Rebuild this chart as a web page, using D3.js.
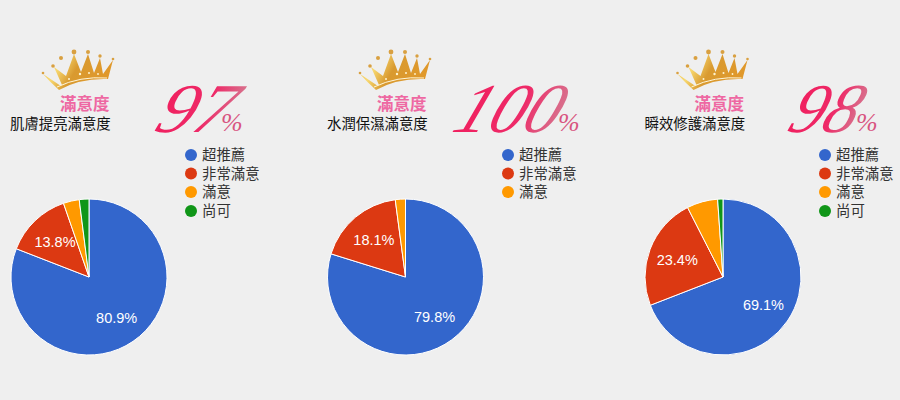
<!DOCTYPE html>
<html><head><meta charset="utf-8">
<script src="https://cdn.jsdelivr.net/npm/d3@7"></script>
<style>html,body{margin:0;padding:0;background:#efefef;overflow:hidden}svg{display:block}
text{font-family:"Noto Sans CJK TC","Noto Sans",sans-serif}</style></head><body>
<svg id="c" width="900" height="400"></svg>
<script>
const categories = ["超推薦","非常滿意","滿意","尚可"];
const colors = ["#3366cc","#dc3912","#ff9900","#109618"];
const titles = ["肌膚提亮滿意度","水潤保濕滿意度","瞬效修護滿意度"];
const scores = ["97","100","98"];
const values1 = [80.9,13.8,3.3,2.0];
const values2 = [79.8,18.1,2.1];
const values3 = [69.1,23.4,6.4,1.1];
const seriesValues = [values1,values2,values3];
const centers = [89,405.5,723];
const legendX = [191,508,825];
const offsets = [0,317,634.5];
const scoreBox = [[140,238],[438,566],[773,864]];
const pctX = [219,556,854];

const svg = d3.select("#c");
svg.append("rect").attr("width",900).attr("height",400).attr("fill","#efefef");
const defs = svg.append("defs");
const g1 = defs.append("linearGradient").attr("id","gold").attr("x1",0).attr("x2",1).attr("y1",0).attr("y2",0.3);
[["0","#f0c040"],["0.3","#f7d870"],["0.55","#d99a30"],["1","#e0982a"]].forEach(s=>g1.append("stop").attr("offset",s[0]).attr("stop-color",s[1]));
const g2 = defs.append("linearGradient").attr("id","rose").attr("x1",0).attr("x2",1).attr("y1",0).attr("y2",0);
[["0","#f0205f"],["0.6","#ee2a68"],["1","#d8708c"]].forEach(s=>g2.append("stop").attr("offset",s[0]).attr("stop-color",s[1]));

const pie = d3.pie().sort(null).value(d=>d);
const R = 78;
const arc = d3.arc().innerRadius(0).outerRadius(R);
const labelArc = d3.arc().innerRadius(49).outerRadius(49);

function crown(g){
  g.append("path").attr("fill","url(#gold)")
   .attr("d","M43,74 L58,84 Q60,86 62,85 L54,67 L66,76 L74,54 L81,72 L88,54 L94,73 L100,58 L103,74 L113,60 L108,79 Q80,78 59,90 Q50,82 43,74Z");
  g.append("path").attr("fill","none").attr("stroke","#fff6d8").attr("stroke-width",1).attr("d","M57,87 Q80,76 107,78");
  [[43,73,1.3],[53,66,1.8],[61,58,2],[74,52,2.4],[88,52,2],[100,56,1.7],[113,59,1.3]].forEach(p=>
    g.append("circle").attr("cx",p[0]).attr("cy",p[1]).attr("r",p[2]).attr("fill","#d9a040"));
  [[69,79,1],[80,74,1.2],[89,73,1],[98,74,.9]].forEach(p=>
    g.append("circle").attr("cx",p[0]).attr("cy",p[1]).attr("r",p[2]).attr("fill","#fff4cf"));
}

seriesValues.forEach((vals,i)=>{
  const g = svg.append("g");
  const head = g.append("g").attr("transform",`translate(${offsets[i]},0)`);
  crown(head);
  head.append("text").attr("x",60).attr("y",109.5).attr("font-size",16.5).attr("font-weight",700).attr("fill","#ee68a2").text("滿意度");
  head.append("text").attr("x",10).attr("y",129).attr("font-size",14.4).attr("fill","#111").text(titles[i]);

  // Big script score
  const [x0,x1] = scoreBox[i];
  const n = scores[i].length, base = 132, fs = 70;
  const sx = (x1-x0-24)/(n*fs*0.5);
  g.append("text").attr("font-size",fs).attr("font-style","italic")
   .style("font-family","'Liberation Serif',serif").attr("fill","url(#rose)")
   .attr("transform",`translate(${x0+12},${base}) skewX(-22) scale(${sx},1)`).text(scores[i]);
  g.append("text").attr("font-size",26).attr("font-style","italic")
   .style("font-family","'Liberation Serif',serif").attr("fill","#d8547f")
   .attr("transform",`translate(${pctX[i]+2},131)`).text("%");

  // Legend
  vals.forEach((v,j)=>{
    const y = [155,173.5,192,211][j];
    g.append("circle").attr("cx",legendX[i]).attr("cy",y).attr("r",6).attr("fill",colors[j]);
    g.append("text").attr("x",legendX[i]+11).attr("y",y+5.2).attr("font-size",14.4).attr("fill","#333").text(categories[j]);
  });

  // Pie
  const p = g.append("g").attr("transform",`translate(${centers[i]},277)`);
  const arcs = pie(vals);
  p.selectAll("path").data(arcs).join("path").attr("d",arc)
    .attr("fill",(d,j)=>colors[j]).attr("stroke","#fff").attr("stroke-width",1);
  p.selectAll("text").data(arcs.filter(d=>d.data>10)).join("text")
    .attr("transform",d=>`translate(${labelArc.centroid(d)})`)
    .attr("text-anchor","middle").attr("dy","0.36em").attr("font-size",14.5).attr("fill","#fff")
    .style("font-family","'Liberation Sans',sans-serif").text(d=>d.data.toFixed(1)+"%");
});
</script></body></html>
